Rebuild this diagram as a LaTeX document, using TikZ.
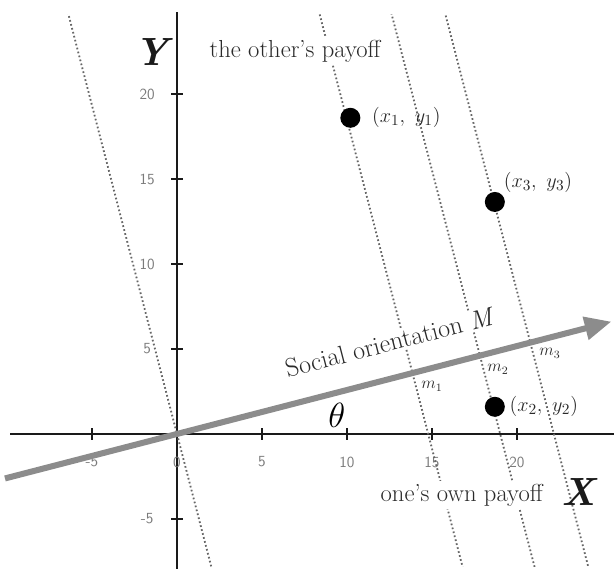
\documentclass[tikz,border=0pt]{standalone}
\usepackage{tikz}
\usepackage{amsmath,amssymb}
\usetikzlibrary{arrows.meta,positioning,calc}
\definecolor{AxisBlack}{HTML}{1A1A1A}
\definecolor{ArrowGray}{HTML}{8C8C8C}
\definecolor{DotGray}{HTML}{666666}
\definecolor{TextGray}{HTML}{2A2A2A}
\definecolor{TickGray}{HTML}{7A7A7A}
\newcommand{\orientangle}{14.5}
\tikzset{
  axisline/.style={AxisBlack, line width=2pt},
  tickmark/.style={AxisBlack, line width=1pt},
  ticklabel/.style={TickGray, font=\sffamily\fontsize{11}{13}\selectfont, inner sep=1pt},
  isoline/.style={DotGray, line width=1.3pt, dash pattern=on 1.2pt off 1.7pt},
  orientarrow/.style={-{Triangle[length=19pt,width=16pt]}, ArrowGray, line width=4.3pt},
  payoffdot/.style={circle, fill=black, minimum size=0.5cm, inner sep=0pt},
  dotlabel/.style={TextGray, font=\fontsize{15}{18}\selectfont, inner sep=1pt},
  mlabel/.style={TextGray, font=\fontsize{12}{14}\selectfont, inner sep=1pt},
  axistitle/.style={AxisBlack, font=\bfseries\itshape\fontsize{28}{30}\selectfont},
  payofftext/.style={TextGray, fill=white, font=\fontsize{17.5}{20}\selectfont, inner sep=2pt},
}

\begin{document}
\begin{tikzpicture}[x=0.425cm, y=0.425cm]
    \useasboundingbox (-10.41,-7.94) rectangle (25.71,25.53);
    % axes
    \coordinate (xleft) at (-9.8,0);
    \coordinate (xright) at (25.71,0);
    \coordinate (ybottom) at (0,-7.94);
    \coordinate (ytop) at (0,24.8);
    \draw[axisline] (xleft) -- (xright);
    \draw[axisline] (ybottom) -- (ytop);
    \foreach \v in {-5,5,10,15,20} {
      \draw[tickmark] (\v,-0.35) -- (\v,0.35);
      \draw[tickmark] (-0.35,\v) -- (0.35,\v);
      \node[ticklabel] (ylab\v) at (-1.75,\v) {\v};
    }
    \foreach \v in {-5,0,5,10,15,20}
      \node[ticklabel] (xlab\v) at (\v,-1.65) {\v};
    % lines of equal orientation
    \begin{scope}
      \clip (-10.41,-7.8) rectangle (25.71,24.7);
      \begin{scope}[rotate=\orientangle]
        \foreach \p/\nm in {0/iso0,14.31/iso1,18.41/iso2,21.47/iso3}
          \draw[isoline] (\p,-15) coordinate (\nm b) -- (\p,30) coordinate (\nm t);
      \end{scope}
    \end{scope}
    % social orientation
    \coordinate (Mtail) at (194.5:10.45);
    \coordinate (Mtip) at (\orientangle:26.4);
    \draw[orientarrow] (Mtail) -- (Mtip);
    \node[payofftext, font=\fontsize{18.5}{21}\selectfont, rotate=\orientangle, inner sep=1pt] (Mtext) at (12.53,5.4) {Social orientation \textit{M}};
    \node[font=\fontsize{24}{26}\selectfont] (theta) at (9.41,1.12) {$\theta$};
    % payoff points
    \node[payoffdot] (P1) at (10.2,18.6) {};
    \node[payoffdot] (P3) at (18.7,13.65) {};
    \node[payoffdot] (P2) at (18.7,1.6) {};
    \node[dotlabel, right=7pt of P1] (P1lab) {$(x_1,\ y_1)$};
    \node[dotlabel, above right=0pt and 0pt of P3] (P3lab) {$(x_3,\ y_3)$};
    \node[dotlabel, right=2pt of P2] (P2lab) {$(x_2,\ y_2)$};
    \node[mlabel] (m1) at (15.0,2.8) {$m_1$};
    \node[mlabel] (m2) at (18.88,3.8) {$m_2$};
    \node[mlabel] (m3) at (21.94,4.75) {$m_3$};
    % axis titles
    \node[axistitle] (Ytitle) at (-1.47,22.47) {Y};
    \node[payofftext] (Ytext) at (6.95,22.53) {the other's payoff};
    \node[axistitle] (Xtitle) at (23.6,-3.41) {X};
    \node[payofftext] (Xtext) at (16.75,-3.59) {one's own payoff};
\end{tikzpicture}
\end{document}
